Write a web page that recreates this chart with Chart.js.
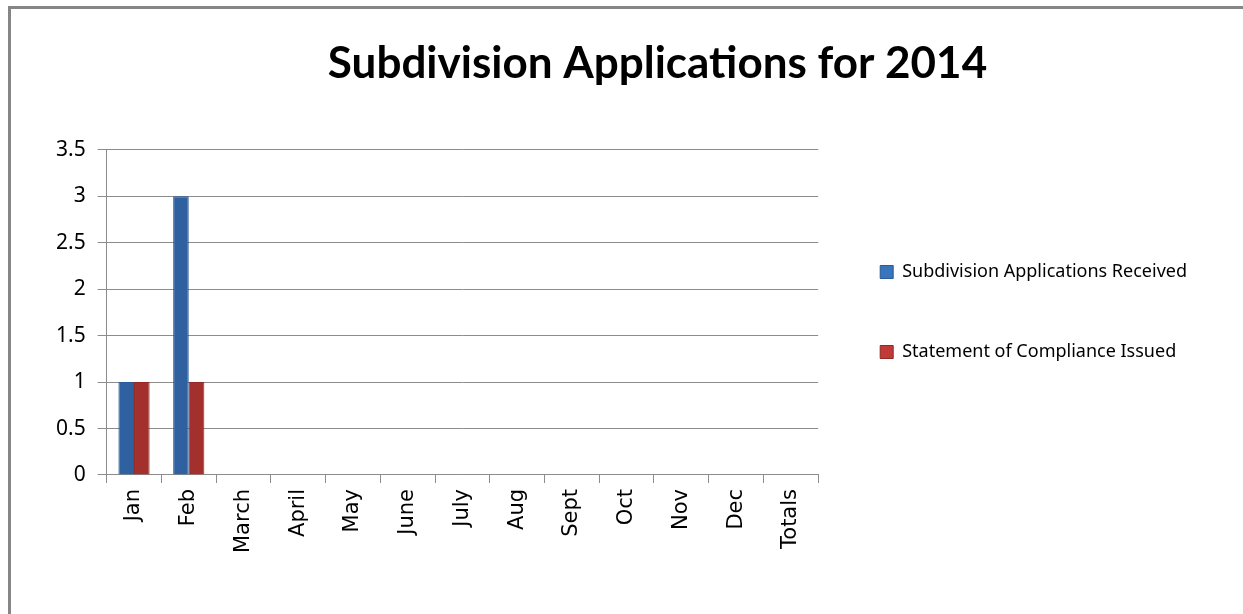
<!DOCTYPE html>
<html>
<head>
<meta charset="utf-8">
<script src="https://cdn.jsdelivr.net/npm/chart.js@4"></script>
<style>
  body { margin: 0; background: #fff; }
  #wrap { position: relative; width: 1243px; height: 614px; }
  #frame {
    position: absolute; left: 8px; top: 6px; right: -10px; bottom: -10px;
    border-top: 3px solid #868686; border-left: 3px solid #868686;
  }
  canvas { position: absolute; left: 0; top: 0; }
</style>
</head>
<body>
<div id="wrap">
  <div id="frame"></div>
  <canvas id="subdivChart" width="1243" height="614"></canvas>
</div>
<script>
// --- Data ---
const months = ['Jan', 'Feb', 'March', 'April', 'May', 'June', 'July', 'Aug', 'Sept', 'Oct', 'Nov', 'Dec', 'Totals']
const applicationsReceived = [1, 3, null, null, null, null, null, null, null, null, null, null, null]
const complianceIssued = [1, 1, null, null, null, null, null, null, null, null, null, null, null]
const yTicks = [0, 0.5, 1, 1.5, 2, 2.5, 3, 3.5]

const gridColor = '#8c8c8c'
// edge / highlight / base / edge shades for the Excel-style bars
const barShades = [
  ['#2f609f', '#4f8edb', '#3a74bd', '#274f85'],
  ['#a3302c', '#d9524c', '#c03b37', '#85231f'],
]

// nudge the title a bit to the right, like the original sheet
const titleShift = {
  id: 'titleShift',
  afterLayout(chart) {
    const t = chart.titleBlock
    if (t) {
      t.left += 37
      t.right += 37
    }
  },
}

// give every bar a soft left-to-right shading
const barGradient = {
  id: 'barGradient',
  beforeDatasetsDraw(chart) {
    const ctx = chart.ctx
    chart.data.datasets.forEach((ds, i) => {
      const shades = barShades[i]
      chart.getDatasetMeta(i).data.forEach((bar) => {
        const half = bar.width / 2
        const g = ctx.createLinearGradient(bar.x - half, 0, bar.x + half, 0)
        g.addColorStop(0, shades[0])
        g.addColorStop(0.3, shades[1])
        g.addColorStop(0.7, shades[2])
        g.addColorStop(1, shades[3])
        bar.options.backgroundColor = g
      })
    })
  },
}

new Chart(document.getElementById('subdivChart'), {
  type: 'bar',
  data: {
    labels: months,
    datasets: [
      {
        label: 'Subdivision Applications Received',
        data: applicationsReceived,
        backgroundColor: '#3a74bd',
        borderColor: '#2a5a97',
        borderWidth: 1,
      },
      {
        label: 'Statement of Compliance Issued',
        data: complianceIssued,
        backgroundColor: '#c03b37',
        borderColor: '#922825',
        borderWidth: 1,
      },
    ],
  },
  options: {
    responsive: false,
    animation: false,
    layout: { padding: { left: 44, right: 46, top: 0, bottom: 55 } },
    datasets: {
      bar: { categoryPercentage: 0.57, barPercentage: 1 },
    },
    scales: {
      x: {
        grid: { drawOnChartArea: false, drawTicks: true, tickLength: 8, color: gridColor, offset: true },
        border: { color: gridColor, width: 1 },
        ticks: {
          color: '#000',
          minRotation: 90,
          maxRotation: 90,
          padding: 6,
          font: { family: 'DejaVu Sans', size: 21 },
        },
      },
      y: {
        min: 0,
        max: 3.5,
        afterBuildTicks(scale) {
          scale.ticks = yTicks.map((v) => ({ value: v }))
        },
        grid: { color: gridColor, tickLength: 9 },
        border: { color: gridColor, width: 1 },
        ticks: {
          color: '#000',
          padding: 12,
          font: { family: 'Noto Sans', size: 21 },
          callback: (v) => String(v),
        },
      },
    },
    plugins: {
      title: {
        display: true,
        text: 'Subdivision Applications for 2014',
        color: '#000',
        font: { family: 'Lato', size: 44, weight: 'bold' },
        padding: { top: 37, bottom: 60 },
      },
      legend: {
        position: 'right',
        maxWidth: 420,
        // empty legend title, only used to push the items down
        title: { display: true, text: '', font: { size: 10 }, padding: { top: 53, bottom: 0 } },
        labels: {
          color: '#000',
          boxWidth: 13,
          boxHeight: 13,
          padding: 62,
          font: { family: 'Noto Sans', size: 18 },
        },
      },
      tooltip: { enabled: false },
    },
  },
  plugins: [titleShift, barGradient],
})
</script>
</body>
</html>
